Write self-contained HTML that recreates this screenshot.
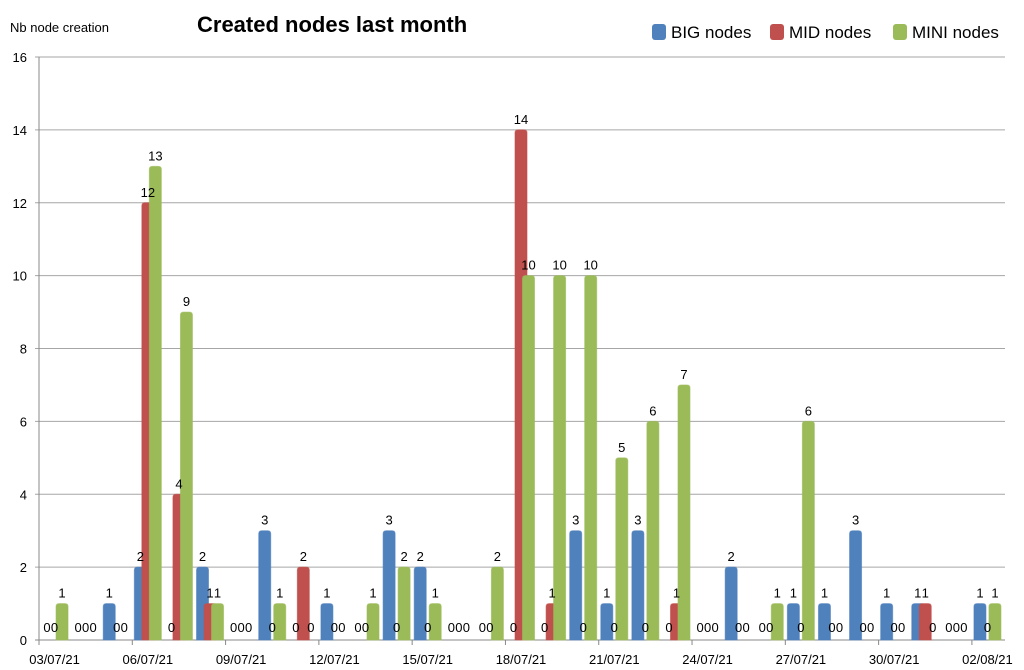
<!DOCTYPE html>
<html><head><meta charset="utf-8">
<style>
body{margin:0;background:#fff;width:1024px;height:670px;overflow:hidden;font-family:"Liberation Sans",sans-serif;}
svg{display:block}
text{font-family:"Liberation Sans",sans-serif;fill:#000}
</style></head>
<body>
<svg id="chart" width="1024" height="670" xmlns="http://www.w3.org/2000/svg">
  <text x="10" y="32" font-size="13">Nb node creation</text>
  <text x="197" y="32" font-size="22" font-weight="bold">Created nodes last month</text>
  <g>
    <g><rect x="652" y="24" width="14" height="16" rx="3" fill="#4F81BD"/><text x="671" y="38" font-size="17">BIG nodes</text></g>
    <g><rect x="770" y="24" width="14" height="16" rx="3" fill="#C0504D"/><text x="789" y="38" font-size="17">MID nodes</text></g>
    <g><rect x="893" y="24" width="14" height="16" rx="3" fill="#9BBB59"/><text x="912" y="38" font-size="17">MINI nodes</text></g>
  </g>
  <g id="grid"></g>
  <g id="bars"></g>
  <g id="labels"></g>
</svg>
<script>
const categories=["03/07/21","04/07/21","05/07/21","06/07/21","07/07/21","08/07/21","09/07/21","10/07/21","11/07/21","12/07/21","13/07/21","14/07/21","15/07/21","16/07/21","17/07/21","18/07/21","19/07/21","20/07/21","21/07/21","22/07/21","23/07/21","24/07/21","25/07/21","26/07/21","27/07/21","28/07/21","29/07/21","30/07/21","31/07/21","01/08/21","02/08/21"];
const bigNodes=[0,0,1,2,0,2,0,3,0,1,0,3,2,0,0,0,0,3,1,3,0,0,2,0,1,1,3,1,1,0,1];
const midNodes=[0,0,0,12,4,1,0,0,2,0,0,0,0,0,0,14,1,0,0,0,1,0,0,0,0,0,0,0,1,0,0];
const miniNodes=[1,0,0,13,9,1,0,1,0,0,1,2,1,0,2,10,10,10,5,6,7,0,0,1,6,0,0,0,0,0,1];
const yTicks=[0,2,4,6,8,10,12,14,16];
const NS="http://www.w3.org/2000/svg";
const x0=39,x1=1003,yBase=640,yTop=57,yMax=16;
const cw=(x1-x0)/categories.length;
const y=v=>yBase-(v/yMax)*(yBase-yTop);
const xc=i=>x0+cw*(i+0.5);
function mk(tag,attrs,parent){const e=document.createElementNS(NS,tag);for(const k in attrs)e.setAttribute(k,attrs[k]);parent.appendChild(e);return e;}
const grid=document.getElementById('grid'),bars=document.getElementById('bars'),labels=document.getElementById('labels');
yTicks.forEach(t=>{
  const l=mk('line',{x1:x0-4,x2:1005,y1:y(t),y2:y(t),stroke:t===0?'#888':'#a6a6a6','stroke-width':1},grid);
  
  
  const tx=mk('text',{x:27,y:y(t)+5,'font-size':13,'text-anchor':'end'},grid);
  tx.textContent=t;
  
  
});
mk('line',{x1:x0,x2:x0,y1:yTop,y2:yBase,stroke:'#888'},grid);
for(let i=0;i<=categories.length;i+=3){
  mk('line',{x1:x0+cw*i,x2:x0+cw*i,y1:yBase,y2:yBase+5,stroke:'#888'},grid);
}
categories.forEach((c,i)=>{
  if(i%3!==0)return;
  const t=mk('text',{x:xc(i),y:664,'font-size':13,'text-anchor':'middle'},grid);
  t.textContent=c;
  
  
});
const series=[[bigNodes,'#4F81BD',-7.5,'big'],[midNodes,'#C0504D',0,'mid'],[miniNodes,'#9BBB59',7.5,'mini']];
series.forEach(([vals,col,off,nm])=>{
  vals.forEach((v,i)=>{
    const cx=xc(i)+off;
    if(v>0){
      const r=mk('path',{d:`M${cx-6},${yBase} V${y(v)+3} Q${cx-6},${y(v)} ${cx-3},${y(v)} H${cx+3} Q${cx+6},${y(v)} ${cx+6},${y(v)+3} V${yBase} Z`,fill:col,stroke:col,'stroke-opacity':0.6},bars);
      
      
    }
    const t=mk('text',{x:cx,y:v>0?y(v)-6:632,'font-size':13,'text-anchor':'middle'},labels);
    t.textContent=v;
    
    
  });
});
</script>
</body></html>
